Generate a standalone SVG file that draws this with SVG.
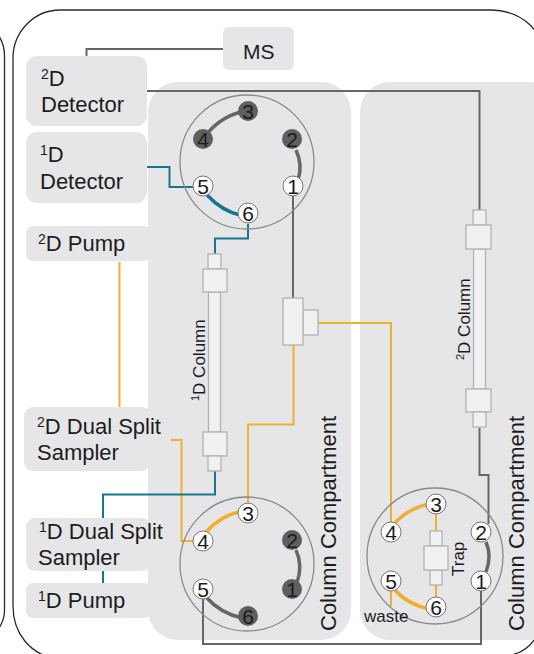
<svg xmlns="http://www.w3.org/2000/svg" width="534" height="654" viewBox="0 0 534 654">
<style>
text{font-family:"Liberation Sans",Arial,sans-serif;fill:#1c1c1c}
.box{fill:#e6e6e8}
.lbl{font-size:22px}
.sm{font-size:17px}
.sup{font-size:14px}
.frame{fill:none;stroke:#2a2a2a;stroke-width:1.3}
.valve{fill:none;stroke:#8a8a8a;stroke-width:1.3}
.w{fill:none;stroke-width:2;stroke-linejoin:miter}
.y{stroke:#edb12f}.t{stroke:#14778f}.g{stroke:#666}
.arc{fill:none;stroke-width:3.500}
.part{fill:#f1f1f2;stroke:#b2b2b2;stroke-width:1.300}
.pw{fill:#fff;stroke:#777;stroke-width:1}
.pd{fill:#5f5f5f}
.pn{font-size:21px;text-anchor:middle}
</style>
<rect width="534" height="654" fill="#fff"/>
<g id="frames">
<path class="frame" d="M-6 30C0 36 4.500 44 4.500 56V610C4.500 620 0 628-6 634"/>
<path class="frame" d="M546 64C546 30 520 10 490 10H60C34 10 13 32 13 58V606C13 634 30 654 58 660"/>
<path class="frame" d="M534 640C530 646 522 652 512 655"/>
</g>
<g id="compartment-1"><rect class="box" x="148" y="82" width="203" height="558" rx="30"/>
<text class="lbl" transform="translate(336 631) rotate(-90)">Column Compartment</text></g>
<g id="compartment-2"><rect class="box" x="360" y="82" width="200" height="558" rx="30"/>
<text class="lbl" transform="translate(524 631) rotate(-90)">Column Compartment</text></g>
<g id="ms"><rect class="box" x="223" y="27" width="71" height="43" rx="6"/><text class="lbl" x="243" y="59" style="font-size:21px">MS</text></g>
<g id="detector-2d"><rect class="box" x="26" y="56" width="121" height="70" rx="11"/>
<text class="lbl" x="41" y="86"><tspan class="sup" dy="-7">2</tspan><tspan dy="7">D</tspan></text><text class="lbl" x="41" y="112">Detector</text></g>
<g id="detector-1d"><rect class="box" x="26" y="132" width="121" height="71" rx="11"/>
<text class="lbl" x="40" y="162"><tspan class="sup" dy="-7">1</tspan><tspan dy="7">D</tspan></text><text class="lbl" x="40" y="189">Detector</text></g>
<g id="pump-2d"><rect class="box" x="26" y="226" width="125" height="35" rx="7"/>
<text class="lbl" x="38" y="251"><tspan class="sup" dy="-7">2</tspan><tspan dy="7">D Pump</tspan></text></g>
<g id="sampler-2d"><rect class="box" x="24" y="407" width="127" height="64" rx="9"/>
<text class="lbl" x="37" y="434"><tspan class="sup" dy="-7">2</tspan><tspan dy="7">D Dual Split</tspan></text><text class="lbl" x="37" y="460">Sampler</text></g>
<g id="sampler-1d"><rect class="box" x="26" y="518" width="125" height="53" rx="9"/>
<text class="lbl" x="39" y="539"><tspan class="sup" dy="-7">1</tspan><tspan dy="7">D Dual Split</tspan></text><text class="lbl" x="38" y="565">Sampler</text></g>
<g id="pump-1d"><rect class="box" x="26" y="583" width="125" height="35" rx="7"/>
<text class="lbl" x="38" y="608"><tspan class="sup" dy="-7">1</tspan><tspan dy="7">D Pump</tspan></text></g>

<g id="connectors">
<path class="w g" d="M86.500 56V49H223"/>
<path class="w g" d="M147 91H479.500V210"/>
<path class="w t" d="M147 167H169.500V187H193"/>
<path class="w t" d="M248 224V238.500H215V254"/>
<path class="w y" d="M119.500 262V407"/>
<path class="w g" d="M293 196V298"/>
<path class="w y" d="M293.500 345V424.500H248V503"/>
<path class="w y" d="M318 323H391V522"/>
<path class="w y" d="M171 440H181.500V541H193"/>
<path class="w t" d="M215 471V494.500H103V518"/>
<path class="w t" d="M103 571V583"/>
<path class="w g" d="M203 599V644H481V590"/>
<path class="w g" d="M479.500 428V475H488.500V524"/>
<path class="w y" d="M436 514V532M436 584V598"/>
<path class="w y" d="M391 590V606"/>
</g>

<g id="column-1d">
<rect class="part" x="208" y="254" width="13" height="15"/>
<rect class="part" x="208.500" y="292" width="12" height="140"/>
<rect class="part" x="203" y="269" width="24" height="23"/>
<rect class="part" x="203" y="432" width="24" height="24"/>
<rect class="part" x="208" y="456" width="13" height="15"/>
<text class="sm" transform="translate(205 401) rotate(-90)"><tspan font-size="11" dy="-6">1</tspan><tspan dy="6">D Column</tspan></text>
</g>
<g id="column-2d">
<rect class="part" x="473" y="210" width="13" height="15"/>
<rect class="part" x="473.500" y="249" width="12" height="140"/>
<rect class="part" x="466" y="225" width="25" height="24"/>
<rect class="part" x="466" y="389" width="25" height="23"/>
<rect class="part" x="473" y="412" width="13" height="15"/>
<text class="sm" transform="translate(470 360) rotate(-90)"><tspan font-size="11" dy="-6">2</tspan><tspan dy="6">D Column</tspan></text>
</g>
<g id="tee">
<rect class="part" x="303" y="310" width="15" height="25"/>
<rect class="part" x="283" y="298" width="20" height="47"/>
</g>
<g id="trap">
<rect class="part" x="430" y="531" width="12" height="15"/>
<rect class="part" x="430" y="570" width="12" height="15"/>
<rect class="part" x="424" y="546" width="24" height="24"/>
<text class="sm" transform="translate(464 576) rotate(-90)">Trap</text>
</g>

<g id="valve-top">
<circle class="valve" cx="247" cy="162" r="67"/>
<path class="arc g" d="M206 135Q222 115 246 111"/>
<path class="arc g" d="M296 150Q303 165 298 180"/>
<path class="arc t" d="M207 195Q222 211 240 215"/>
<circle class="pd" cx="248" cy="111" r="10"/><circle class="pd" cx="203" cy="139" r="10"/><circle class="pd" cx="292" cy="139" r="10"/>
<circle class="pw" cx="293" cy="186" r="10"/><circle class="pw" cx="203" cy="186" r="10"/><circle class="pw" cx="248" cy="213" r="10"/>
<text class="pn" x="248" y="118.500">3</text><text class="pn" x="203" y="146.500">4</text><text class="pn" x="292" y="146.500">2</text><text class="pn" x="293" y="193.500">1</text><text class="pn" x="203" y="193.500">5</text><text class="pn" x="248" y="220.500">6</text>
</g>
<g id="valve-bottom">
<circle class="valve" cx="247" cy="564" r="67"/>
<path class="arc y" d="M206 532Q220 516 242 511"/>
<path class="arc g" d="M296 550Q303 565 297 583"/>
<path class="arc g" d="M206 597Q220 613 242 618"/>
<circle class="pd" cx="292" cy="540" r="10"/><circle class="pd" cx="292" cy="589" r="10"/><circle class="pd" cx="248" cy="616" r="10"/>
<circle class="pw" cx="248" cy="513" r="10"/><circle class="pw" cx="203" cy="541" r="10"/><circle class="pw" cx="203" cy="589" r="10"/>
<text class="pn" x="248" y="520.500">3</text><text class="pn" x="203" y="548.500">4</text><text class="pn" x="292" y="547.500">2</text><text class="pn" x="292" y="596.500">1</text><text class="pn" x="203" y="596.500">5</text><text class="pn" x="248" y="623.500">6</text>
</g>
<g id="valve-right">
<circle class="valve" cx="435" cy="556" r="68"/>
<path class="arc y" d="M394 524Q408 508 430 504"/>
<path class="arc g" d="M486 542Q492 556 486 572"/>
<path class="arc y" d="M394 589Q408 605 430 609"/>
<circle class="pw" cx="436" cy="504" r="10"/><circle class="pw" cx="391" cy="532" r="10"/><circle class="pw" cx="481" cy="532" r="10"/><circle class="pw" cx="481" cy="581" r="10"/><circle class="pw" cx="391" cy="581" r="10"/><circle class="pw" cx="436" cy="607" r="10"/>
<text class="pn" x="436" y="511.500">3</text><text class="pn" x="391" y="539.500">4</text><text class="pn" x="481" y="539.500">2</text><text class="pn" x="481" y="588.500">1</text><text class="pn" x="391" y="588.500">5</text><text class="pn" x="436" y="614.500">6</text>
<text x="364" y="622" font-size="17">waste</text>
</g>
</svg>
